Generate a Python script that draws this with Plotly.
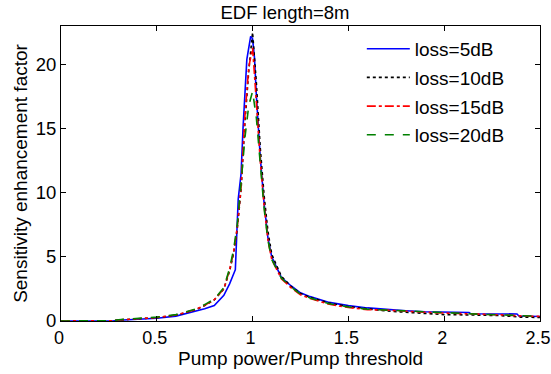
import plotly.graph_objects as go

# Pump power / pump threshold
x_common = [0, 0.1, 0.2, 0.27, 0.3, 0.4, 0.5, 0.6, 0.7, 0.75, 0.8, 0.85, 0.88, 0.9,
            0.92, 0.94, 0.96, 0.98, 1.0, 1.02, 1.04, 1.06, 1.08, 1.1, 1.15, 1.2,
            1.25, 1.3, 1.4, 1.5, 1.6, 1.7, 1.8, 1.9, 2.0, 2.1, 2.2, 2.3, 2.4, 2.5]

x_blue = [0, 0.1, 0.2, 0.27, 0.3, 0.4, 0.5, 0.6, 0.7, 0.75, 0.8, 0.85, 0.88, 0.9,
          0.91, 0.925, 0.94, 0.95, 0.97, 0.99, 1.0, 1.01, 1.02, 1.04, 1.06, 1.08,
          1.1, 1.15, 1.2, 1.25, 1.3, 1.4, 1.5, 1.6, 1.7, 1.8, 1.9, 2.0, 2.13, 2.14,
          2.38, 2.39, 2.5]
y_blue = [0, 0, 0, 0, 0.06, 0.14, 0.22, 0.38, 0.75, 0.95, 1.2, 2.0, 2.9, 3.7,
          4.0, 9.5, 11.5, 15.0, 20.4, 22.2, 22.0, 20.5, 17.5, 12.8, 9.2, 6.5,
          5.0, 3.4, 2.75, 2.2, 1.9, 1.45, 1.2, 1.02, 0.9, 0.8, 0.72, 0.68, 0.66, 0.56,
          0.55, 0.39, 0.35]

y_black = [0, 0, 0, 0.02, 0.08, 0.15, 0.26, 0.45, 0.86, 1.2, 1.64, 2.5, 3.9, 5.2,
           7.2, 10.3, 15.5, 19.5, 22.5, 18.5, 13.5, 9.8, 7.0, 5.2, 3.5, 2.7,
           2.15, 1.85, 1.4, 1.12, 0.95, 0.78, 0.68, 0.6, 0.5, 0.48, 0.45, 0.42, 0.3, 0.28]

y_red = [0, 0, 0, 0.02, 0.08, 0.16, 0.27, 0.47, 0.88, 1.22, 1.66, 2.5, 4.0, 5.3,
         7.3, 10.5, 16.0, 19.8, 21.3, 17.0, 12.5, 9.0, 6.3, 4.8, 3.3, 2.6,
         2.05, 1.75, 1.3, 1.05, 0.88, 0.85, 0.75, 0.68, 0.62, 0.58, 0.52, 0.48, 0.4, 0.36]

y_green = [0, 0, 0, 0.02, 0.1, 0.18, 0.3, 0.5, 0.92, 1.28, 1.7, 2.6, 4.1, 5.5,
           7.5, 10.8, 14.3, 16.8, 17.9, 15.8, 12.0, 8.8, 6.3, 4.8, 3.35, 2.65,
           2.1, 1.8, 1.35, 1.1, 0.92, 0.85, 0.75, 0.68, 0.62, 0.58, 0.52, 0.48, 0.4, 0.36]

names = ["loss=5dB", "loss=10dB", "loss=15dB", "loss=20dB"]
colors = ["#0000ff", "#000000", "#ff0000", "#008000"]
dashes = ["solid", "dot", "dashdot", "dash"]

x_ticks = [0, 0.5, 1, 1.5, 2, 2.5]
x_ticklabels = ["0", "0.5", "1", "1.5", "2", "2.5"]
y_ticks = [0, 5, 10, 15, 20]

FONT = "Liberation Sans, Arial, sans-serif"

fig = go.Figure()
series = [(x_blue, y_blue), (x_common, y_black), (x_common, y_red), (x_common, y_green)]
for i, (xs, ys) in enumerate(series):
    fig.add_trace(go.Scatter(
        x=xs, y=ys, mode="lines", name=names[i], legendgroup=f"g{i}",
        line=dict(color=colors[i], dash=dashes[i], width=1.6),
    ))

axis_common = dict(
    showgrid=False, zeroline=False, showline=True, linecolor="black", linewidth=1,
    mirror="ticks", ticks="inside", ticklen=5, tickcolor="black",
    ticklabeloverflow="allow", automargin=False,
)

fig.update_layout(
    width=551, height=374,
    margin=dict(l=61, r=11, t=26, b=53, autoexpand=False),
    paper_bgcolor="white", plot_bgcolor="white",
    font=dict(family=FONT, size=19, color="black"),
    title=dict(text="EDF length=8m", x=285 / 551, xanchor="center",
               y=1 - 13 / 374, yanchor="middle",
               font=dict(family=FONT, size=18.5, color="black")),
    xaxis=dict(range=[0, 2.5002], tickvals=x_ticks, ticktext=x_ticklabels,
               ticklabelshift=-2,
               tickfont=dict(family=FONT, size=18, color="black"),
               title=dict(text="Pump power/Pump threshold", standoff=5,
                          font=dict(family=FONT, size=19)), **axis_common),
    yaxis=dict(range=[0, 23], tickvals=y_ticks,
               tickfont=dict(family=FONT, size=18.5, color="black"),
               title=dict(text="Sensitivity enhancement factor", standoff=3,
                          font=dict(family=FONT, size=19)), **axis_common),
    legend=dict(x=0.628, y=0.987, xanchor="left", yanchor="top",
                bgcolor="rgba(0,0,0,0)", borderwidth=0, itemwidth=43,
                tracegroupgap=1, font=dict(family=FONT, size=19)),
    showlegend=True,
)

fig.write_html("out.html")
